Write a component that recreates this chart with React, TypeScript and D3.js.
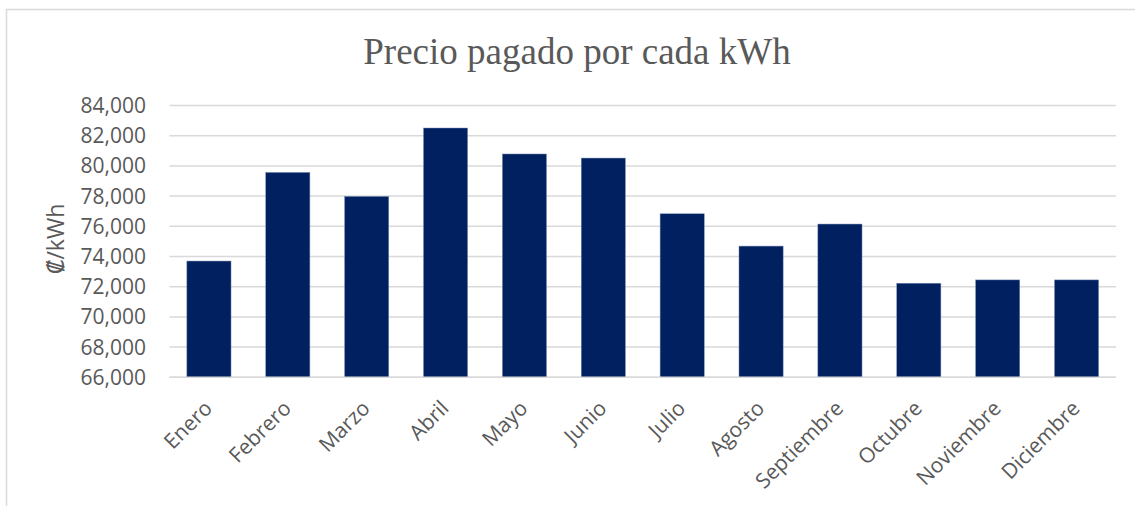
import React from "react";
import * as d3 from "d3";

const months = ["Enero","Febrero","Marzo","Abril","Mayo","Junio","Julio","Agosto","Septiembre","Octubre","Noviembre","Diciembre"];
const prices = [73700, 79570, 77980, 82510, 80790, 80520, 76830, 74690, 76150, 72230, 72450, 72450];
const yTicks = [66000, 68000, 70000, 72000, 74000, 76000, 78000, 80000, 82000, 84000];
const title = "Precio pagado por cada kWh";
const yLabel = "₡/kWh";

const W = 1135, H = 506;
const left = 169.5, right = 1116, top = 105.5, bottom = 377.3;

export default function App() {
  const x = d3.scaleBand<string>().domain(months).range([left, right]).paddingInner(0.44).paddingOuter(0.22);
  const y = d3.scaleLinear().domain([66000, 84000]).range([bottom, top]);
  const fmt = d3.format(",");
  const txt = "#595959";
  const sans = "'Open Sans', 'DejaVu Sans', sans-serif";
  return (
    <svg width={W} height={H} style={{ position: "absolute", left: 0, top: 0, background: "#fff" }}>
      <rect x={6.5} y={9.5} width={W + 10} height={H + 10} fill="#fff" stroke="#d9d9d9" strokeWidth={1.5} />
      <text x={577} y={64} textAnchor="middle" fill={txt} fontFamily="'Liberation Serif', 'Times New Roman', serif" fontSize={37}>{title}</text>
      {yTicks.map(t => (
        <g key={t}>
          <line x1={left} x2={right} y1={y(t)} y2={y(t)} stroke="#d9d9d9" strokeWidth={1.5} />
          <text x={146} y={y(t)} dy="0.36em" textAnchor="end" fill={txt} fontFamily={sans} fontSize={21}>{fmt(t)}</text>
        </g>
      ))}
      {months.map((m, i) => (
        <rect key={m} x={x(m)} y={y(prices[i])} width={x.bandwidth()} height={y(66000) - y(prices[i])} fill="#002060" stroke="#8093b8" strokeWidth={0.5} />
      ))}
      <line x1={left} x2={right} y1={bottom} y2={bottom} stroke="#d9d9d9" strokeWidth={1.5} />
      {months.map(m => {
        const cx = (x(m) as number) + x.bandwidth() / 2;
        return (
          <text key={m} transform={`translate(${cx - 6},${399}) rotate(-45)`} textAnchor="end" dy="0.71em" fill={txt} fontFamily={sans} fontSize={21}>{m}</text>
        );
      })}
      <text transform={`translate(${64},${239}) rotate(-90)`} textAnchor="middle" fill={txt} fontFamily={sans} fontSize={23}>{yLabel}</text>
    </svg>
  );
}
